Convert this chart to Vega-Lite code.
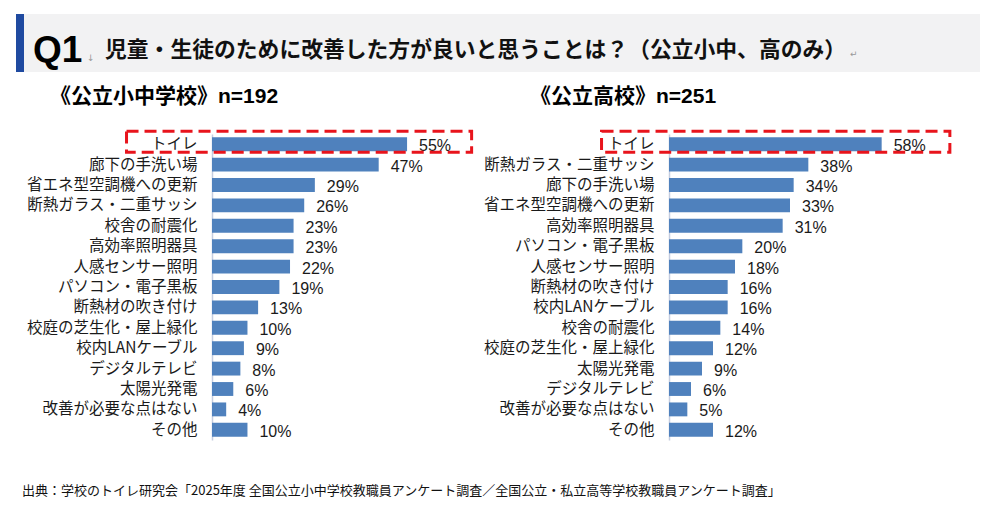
{
  "$schema": "https://vega.github.io/schema/vega-lite/v6.json",
  "background": "white",
  "padding": {"left": 16, "top": 14, "right": 0, "bottom": 0},
  "title": {
    "text": "出典：学校のトイレ研究会「2025年度 全国公立小中学校教職員アンケート調査／全国公立・私立高等学校教職員アンケート調査」",
    "orient": "bottom",
    "anchor": "start",
    "offset": 55,
    "dx": 6,
    "baseline": "alphabetic",
    "fontSize": 13,
    "fontWeight": "normal",
    "font": "Noto Sans CJK JP",
    "color": "#111111"
  },
  "datasets": {
    "elem": [
      {"item": "トイレ", "value": 0.55},
      {"item": "廊下の手洗い場", "value": 0.47},
      {"item": "省エネ型空調機への更新", "value": 0.29},
      {"item": "断熱ガラス・二重サッシ", "value": 0.26},
      {"item": "校舎の耐震化", "value": 0.23},
      {"item": "高効率照明器具", "value": 0.23},
      {"item": "人感センサー照明", "value": 0.22},
      {"item": "パソコン・電子黒板", "value": 0.19},
      {"item": "断熱材の吹き付け", "value": 0.13},
      {"item": "校庭の芝生化・屋上緑化", "value": 0.10},
      {"item": "校内LANケーブル", "value": 0.09},
      {"item": "デジタルテレビ", "value": 0.08},
      {"item": "太陽光発電", "value": 0.06},
      {"item": "改善が必要な点はない", "value": 0.04},
      {"item": "その他", "value": 0.10}
    ],
    "high": [
      {"item": "トイレ", "value": 0.58},
      {"item": "断熱ガラス・二重サッシ", "value": 0.38},
      {"item": "廊下の手洗い場", "value": 0.34},
      {"item": "省エネ型空調機への更新", "value": 0.33},
      {"item": "高効率照明器具", "value": 0.31},
      {"item": "パソコン・電子黒板", "value": 0.20},
      {"item": "人感センサー照明", "value": 0.18},
      {"item": "断熱材の吹き付け", "value": 0.16},
      {"item": "校内LANケーブル", "value": 0.16},
      {"item": "校舎の耐震化", "value": 0.14},
      {"item": "校庭の芝生化・屋上緑化", "value": 0.12},
      {"item": "太陽光発電", "value": 0.09},
      {"item": "デジタルテレビ", "value": 0.06},
      {"item": "改善が必要な点はない", "value": 0.05},
      {"item": "その他", "value": 0.12}
    ]
  },
  "spacing": 13,
  "vconcat": [
    {
      "width": 768,
      "height": 58,
      "data": {"values": [{}]},
      "layer": [
        {
          "mark": {"type": "rect", "color": "#f2f2f3"},
          "encoding": {
            "x": {"datum": 0, "type": "quantitative", "scale": {"domain": [196, 964], "nice": false, "zero": false}, "axis": null},
            "x2": {"datum": 964},
            "y": {"datum": 0, "type": "quantitative", "scale": {"domain": [0, 58], "nice": false, "zero": false, "reverse": true}, "axis": null},
            "y2": {"datum": 58}
          }
        },
        {
          "mark": {"type": "rect", "color": "#1f4aa0"},
          "encoding": {
            "x": {"datum": 0, "type": "quantitative"},
            "x2": {"datum": 8},
            "y": {"datum": 0, "type": "quantitative"},
            "y2": {"datum": 58}
          }
        },
        {
          "mark": {"type": "text", "fontSize": 37, "fontWeight": "bold", "font": "Liberation Sans", "align": "left", "baseline": "alphabetic", "color": "#000000"},
          "encoding": {
            "x": {"datum": 17, "type": "quantitative"},
            "y": {"datum": 48, "type": "quantitative"},
            "text": {"value": "Q1"}
          }
        },
        {
          "mark": {"type": "text", "fontSize": 9, "font": "DejaVu Sans", "align": "left", "baseline": "alphabetic", "color": "#999999"},
          "encoding": {
            "x": {"datum": 71, "type": "quantitative"},
            "y": {"datum": 47, "type": "quantitative"},
            "text": {"value": "↓"}
          }
        },
        {
          "mark": {"type": "text", "fontSize": 21.8, "fontWeight": "bold", "font": "Noto Sans CJK JP", "align": "left", "baseline": "alphabetic", "color": "#111111"},
          "encoding": {
            "x": {"datum": 89, "type": "quantitative"},
            "y": {"datum": 42.5, "type": "quantitative"},
            "text": {"value": "児童・生徒のために改善した方が良いと思うことは？（公立小中、高のみ）"}
          }
        },
        {
          "mark": {"type": "text", "fontSize": 9, "font": "DejaVu Sans", "align": "left", "baseline": "alphabetic", "color": "#999999"},
          "encoding": {
            "x": {"datum": 834, "type": "quantitative"},
            "y": {"datum": 43, "type": "quantitative"},
            "text": {"value": "↵"}
          }
        }
      ]
    },
    {
      "spacing": 0,
      "hconcat": [
        {
          "width": 266,
          "height": 306,
          "data": {"name": "elem"},
          "title": {"text": "《公立小中学校》n=192", "anchor": "start", "frame": "group", "dx": -162, "offset": 6, "baseline": "alphabetic", "fontSize": 21, "fontWeight": "bold", "font": "Liberation Sans, Noto Sans CJK JP", "color": "#000000"},
          "encoding": {
            "y": {
              "field": "item", "type": "nominal", "sort": null,
              "scale": {"paddingInner": 0.32, "paddingOuter": 0.16},
              "axis": {"title": null, "ticks": false, "domain": true, "domainColor": "#c5cde0", "domainWidth": 1.5, "labelPadding": 15, "labelFontSize": 15.5, "labelFont": "Noto Sans CJK JP", "labelColor": "#1a1a1a", "labelLimit": 400, "minExtent": 196, "grid": false}
            }
          },
          "layer": [
            {
              "mark": {"type": "bar", "color": "#4f81bd"},
              "encoding": {"x": {"field": "value", "type": "quantitative", "scale": {"domain": [0, 0.75], "nice": false}, "axis": null}}
            },
            {
              "mark": {"type": "text", "align": "left", "dx": 12, "dy": 2, "fontSize": 16, "font": "Liberation Sans", "color": "#1a1a1a"},
              "encoding": {"x": {"field": "value", "type": "quantitative"}, "text": {"field": "value", "format": ".0%"}}
            },
            {
              "transform": [{"filter": "datum.item === 'トイレ'"}],
              "mark": {"type": "bar", "height": 21, "yOffset": -2.4, "fill": "transparent", "stroke": "#e8141c", "strokeWidth": 3, "strokeDash": [12, 6]},
              "encoding": {"x": {"datum": -0.241, "type": "quantitative"}, "x2": {"datum": 0.732}}
            }
          ]
        },
        {
          "width": 275,
          "height": 306,
          "data": {"name": "high"},
          "title": {"text": "《公立高校》n=251", "anchor": "start", "frame": "group", "dx": -139, "offset": 6, "baseline": "alphabetic", "fontSize": 21, "fontWeight": "bold", "font": "Liberation Sans, Noto Sans CJK JP", "color": "#000000"},
          "encoding": {
            "y": {
              "field": "item", "type": "nominal", "sort": null,
              "scale": {"paddingInner": 0.32, "paddingOuter": 0.16},
              "axis": {"title": null, "ticks": false, "domain": true, "domainColor": "#c5cde0", "domainWidth": 1.5, "labelPadding": 15, "labelFontSize": 15.5, "labelFont": "Noto Sans CJK JP", "labelColor": "#1a1a1a", "labelLimit": 400, "minExtent": 191, "grid": false}
            }
          },
          "layer": [
            {
              "mark": {"type": "bar", "color": "#4f81bd"},
              "encoding": {"x": {"field": "value", "type": "quantitative", "scale": {"domain": [0, 0.75], "nice": false}, "axis": null}}
            },
            {
              "mark": {"type": "text", "align": "left", "dx": 12, "dy": 2, "fontSize": 16, "font": "Liberation Sans", "color": "#1a1a1a"},
              "encoding": {"x": {"field": "value", "type": "quantitative"}, "text": {"field": "value", "format": ".0%"}}
            },
            {
              "transform": [{"filter": "datum.item === 'トイレ'"}],
              "mark": {"type": "bar", "height": 21, "yOffset": -2.4, "fill": "transparent", "stroke": "#e8141c", "strokeWidth": 3, "strokeDash": [12, 6]},
              "encoding": {"x": {"datum": -0.184, "type": "quantitative"}, "x2": {"datum": 0.766}}
            }
          ]
        }
      ]
    }
  ],
  "config": {"view": {"stroke": null}}
}
